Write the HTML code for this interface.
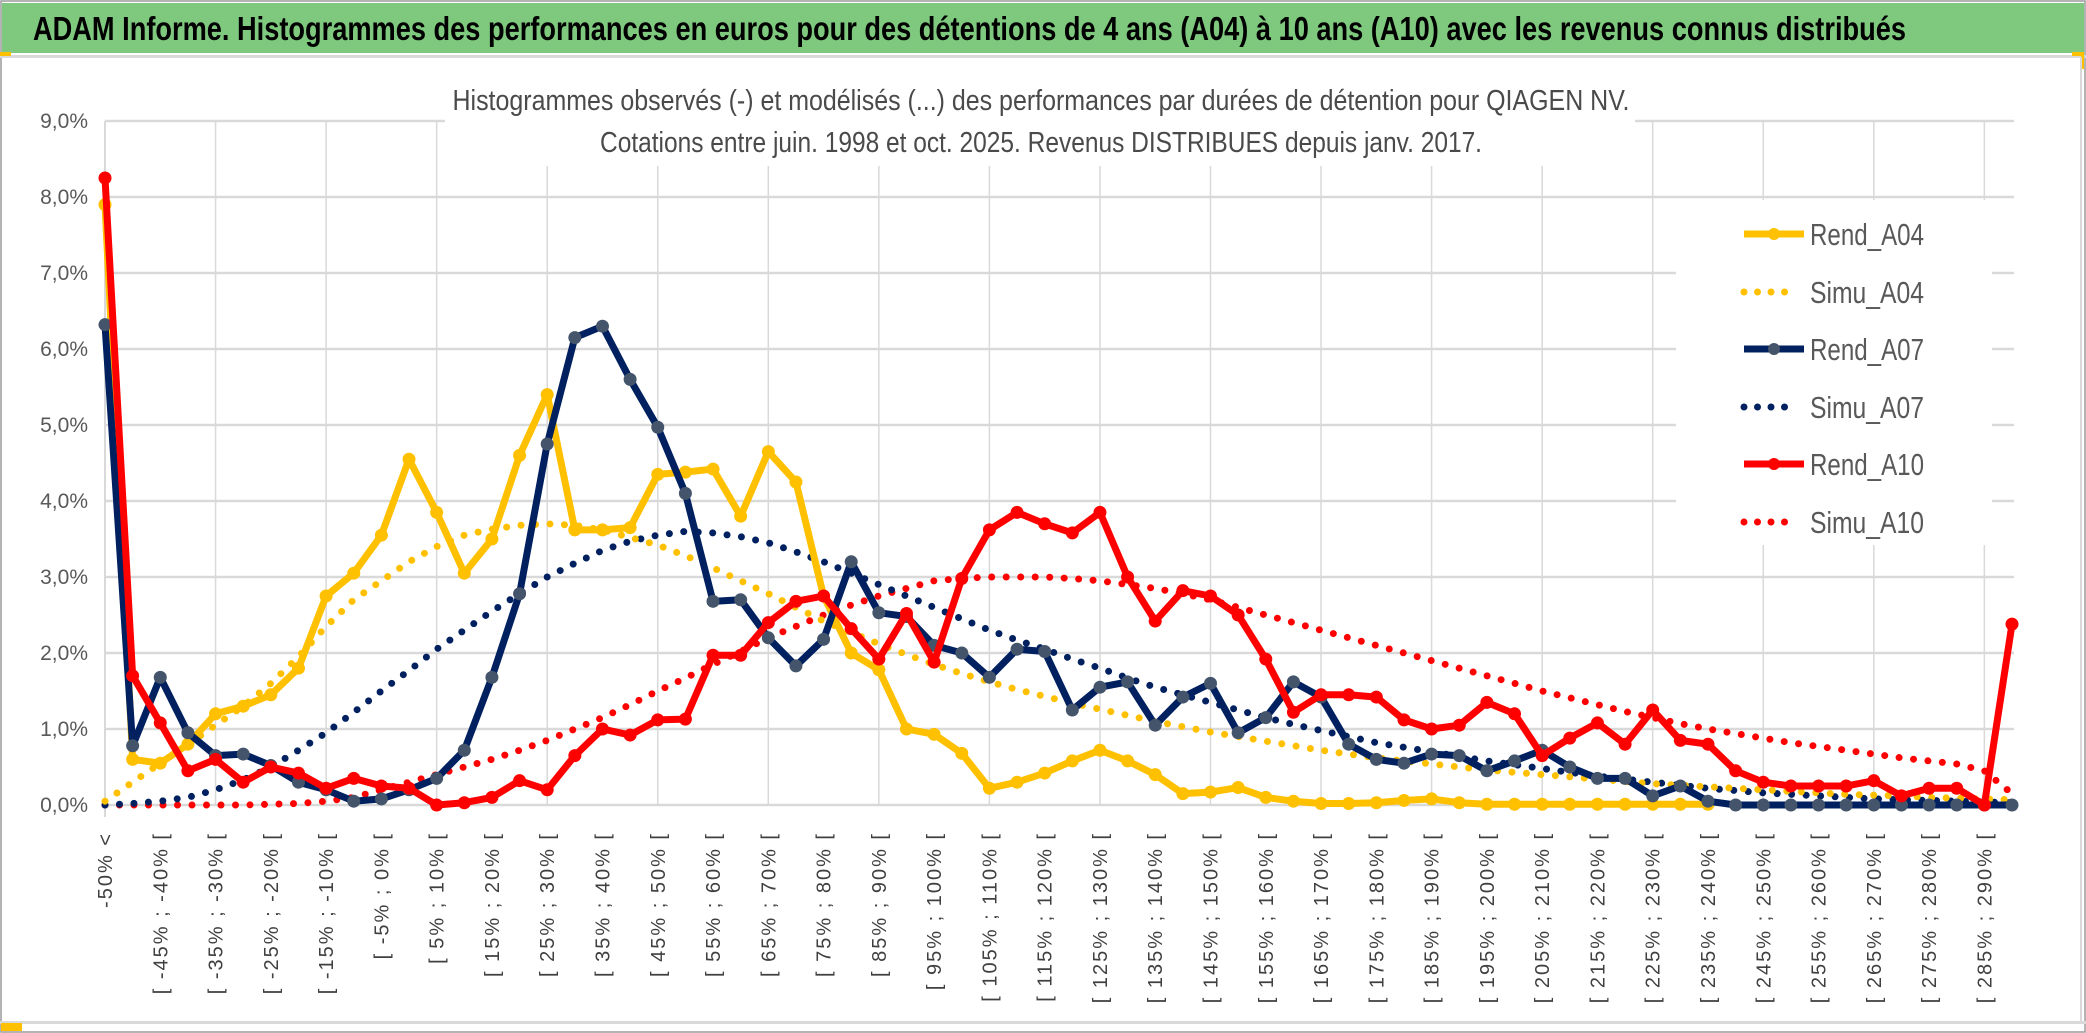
<!DOCTYPE html>
<html><head><meta charset="utf-8"><style>
html,body{margin:0;padding:0;background:#fff;}
svg{display:block;}
text{font-family:"Liberation Sans Narrow","Liberation Sans",sans-serif;}
</style></head><body>
<svg id="chart" width="2086" height="1033" viewBox="0 0 2086 1033" xmlns="http://www.w3.org/2000/svg">
<rect x="0" y="0" width="2086" height="1033" fill="#fff"/>
<rect x="1" y="1" width="2084" height="1031" fill="none" stroke="#9a9a9a" stroke-width="1.5"/>
<rect x="2" y="3" width="2082" height="50" fill="#7FC97F"/>
<text x="33" y="40" font-size="33" font-weight="bold" fill="#000" textLength="1873" lengthAdjust="spacingAndGlyphs">ADAM Informe. Histogrammes des performances en euros pour des détentions de 4 ans (A04) à 10 ans (A10) avec les revenus connus distribués</text>
<rect x="0" y="55" width="2086" height="3" fill="#d9d9d9"/>
<rect x="0" y="52" width="11" height="4" fill="#FFC000"/>
<rect x="2072" y="52" width="12" height="4" fill="#FFC000"/>
<rect x="2081" y="55" width="3" height="14" fill="#FFC000"/>
<line x1="2081" y1="57" x2="2081" y2="1022" stroke="#d9d9d9" stroke-width="2"/>
<rect x="0" y="1021" width="2086" height="3" fill="#d9d9d9"/>
<rect x="1" y="1023" width="21" height="8" fill="#FFC000"/>
<g id="grid"></g>
<rect x="445" y="80" width="1190" height="86" fill="#fff"/>
<text x="1041" y="110" font-size="29" fill="#4a4a4a" text-anchor="middle" textLength="1177" lengthAdjust="spacingAndGlyphs">Histogrammes observés (-) et modélisés (...) des performances par durées de détention pour QIAGEN NV.</text>
<text x="1041" y="152" font-size="29" fill="#4a4a4a" text-anchor="middle" textLength="882" lengthAdjust="spacingAndGlyphs">Cotations entre juin. 1998 et oct. 2025. Revenus DISTRIBUES depuis janv. 2017.</text>
<g id="yaxis"></g>
<g id="xaxis"></g>
<g id="series"></g>
<g id="legend"></g>
</svg>
<script>
const categories = (function(){const a=["-50% <"];for(let i=1;i<70;i++){const lo=-50+5*(i-1);a.push("[ "+lo+"% ; "+(lo+5)+"% [");}return a;})();
const yTicks = [0,1,2,3,4,5,6,7,8,9];
const rendA04 = [7.9,0.6,0.55,0.8,1.2,1.3,1.45,1.8,2.75,3.05,3.55,4.55,3.85,3.05,3.5,4.6,5.4,3.62,3.62,3.65,4.35,4.38,4.42,3.8,4.65,4.25,2.75,2.0,1.78,1.0,0.93,0.68,0.22,0.3,0.42,0.58,0.72,0.58,0.4,0.15,0.17,0.23,0.1,0.05,0.02,0.02,0.03,0.06,0.08,0.03,0.01,0.01,0.01,0.01,0.01,0.01,0.01,0.01,0.01,null,null,null,null,null,null,null,null,null,null,null];
const rendA07 = [6.32,0.78,1.68,0.95,0.65,0.67,0.52,0.3,0.2,0.05,0.08,0.2,0.35,0.72,1.68,2.78,4.75,6.15,6.3,5.6,4.97,4.1,2.68,2.7,2.2,1.83,2.18,3.2,2.53,2.48,2.1,2.0,1.68,2.05,2.02,1.25,1.55,1.62,1.05,1.42,1.6,0.95,1.15,1.62,1.42,0.8,0.6,0.55,0.67,0.65,0.45,0.58,0.72,0.5,0.35,0.35,0.12,0.25,0.05,0,0,0,0,0,0,0,0,0,0,0];
const rendA10 = [8.25,1.7,1.08,0.45,0.6,0.3,0.5,0.42,0.22,0.35,0.25,0.22,0.0,0.03,0.1,0.32,0.2,0.65,1.0,0.92,1.12,1.13,1.97,1.97,2.4,2.68,2.75,2.32,1.92,2.52,1.88,2.98,3.62,3.85,3.7,3.58,3.85,3.0,2.42,2.82,2.75,2.5,1.92,1.22,1.45,1.45,1.42,1.12,1.0,1.05,1.35,1.2,0.65,0.88,1.08,0.8,1.25,0.85,0.8,0.45,0.3,0.25,0.25,0.25,0.32,0.12,0.22,0.22,0.0,2.38];
const simuA04 = [0.05,0.3,0.55,0.8,1.05,1.3,1.6,1.95,2.35,2.7,2.95,3.2,3.4,3.55,3.63,3.68,3.7,3.68,3.62,3.52,3.42,3.28,3.12,2.95,2.78,2.6,2.42,2.27,2.12,1.98,1.85,1.73,1.62,1.52,1.43,1.34,1.26,1.18,1.1,1.03,0.96,0.9,0.84,0.78,0.72,0.67,0.62,0.58,0.54,0.5,0.46,0.43,0.4,0.37,0.34,0.31,0.28,0.26,0.24,0.22,0.2,0.18,0.16,0.14,0.13,0.12,0.1,0.09,0.08,0.07];
const simuA07 = [0.0,0.02,0.05,0.1,0.2,0.33,0.5,0.72,0.95,1.22,1.5,1.77,2.05,2.3,2.55,2.78,3.0,3.18,3.35,3.47,3.55,3.6,3.58,3.53,3.45,3.33,3.2,3.05,2.9,2.75,2.6,2.45,2.3,2.17,2.05,1.92,1.8,1.67,1.55,1.45,1.35,1.25,1.15,1.06,0.98,0.9,0.82,0.76,0.7,0.64,0.58,0.53,0.48,0.43,0.38,0.34,0.3,0.26,0.22,0.19,0.16,0.14,0.12,0.1,0.08,0.07,0.06,0.05,0.04,0.03];
const simuA10 = [0,0,0,0,0,0,0.01,0.02,0.05,0.1,0.2,0.3,0.4,0.5,0.6,0.72,0.85,1.0,1.15,1.32,1.5,1.67,1.85,2.02,2.2,2.35,2.5,2.63,2.75,2.85,2.95,2.98,3.0,3.0,3.0,2.98,2.95,2.9,2.85,2.78,2.7,2.6,2.5,2.4,2.3,2.2,2.1,2.0,1.9,1.8,1.7,1.6,1.5,1.41,1.32,1.23,1.15,1.07,1.0,0.94,0.88,0.82,0.77,0.72,0.67,0.62,0.58,0.54,0.45,0.15];

const X0=105, X1=2012, Y0=805, PX=76;
const xs = i => X0 + i*(X1-X0)/(categories.length-1);
const ys = v => Y0 - v*PX;
const NS="http://www.w3.org/2000/svg";
function mk(tag, attrs, parent){const e=document.createElementNS(NS,tag);for(const k in attrs)e.setAttribute(k,attrs[k]);parent.appendChild(e);return e;}

const grid=document.getElementById('grid');
yTicks.forEach(t=>{
  const l=mk('line',{x1:X0,x2:2014,y1:ys(t),y2:ys(t),stroke:'#d9d9d9','stroke-width':2.5},grid);
  
  
});
for(let i=4;i<categories.length;i+=4){
  const l=mk('line',{x1:xs(i),x2:xs(i),y1:ys(9),y2:Y0,stroke:'#d9d9d9','stroke-width':1.5},grid);
  
  
}
const ax=mk('line',{x1:X0,x2:X0,y1:ys(9),y2:Y0+12,stroke:'#d9d9d9','stroke-width':2},grid);



const yax=document.getElementById('yaxis');
yTicks.forEach(t=>{
  const tx=mk('text',{x:88,y:ys(t)+7,'font-size':21,fill:'#595959','text-anchor':'end'},yax);
  tx.textContent=t.toFixed(1).replace('.',',')+'%';
  
  
});
const xax=document.getElementById('xaxis');
categories.forEach((c,i)=>{
  if(i%2) return;
  const x=xs(i)+7;
  const tx=mk('text',{x:x,y:832,'font-size':20,fill:'#404040','text-anchor':'end','letter-spacing':'2','transform':`rotate(-90 ${x} 832)`,style:'font-family:"Liberation Sans",sans-serif'},xax);
  tx.textContent=c;
  
  
});

const ser=document.getElementById('series');
function dotted(data,color,name){
  let d='';data.forEach((v,i)=>{if(v==null)return;d+=(d?'L':'M')+xs(i)+' '+ys(v);});
  const p=mk('path',{d:d,fill:'none',stroke:color,'stroke-width':7,'stroke-linecap':'round','stroke-dasharray':'0 14.5'},ser);
  
  
}
function solid(data,color,mcolor,name){
  let d='';data.forEach((v,i)=>{if(v==null)return;d+=(d?'L':'M')+xs(i)+' '+ys(v);});
  const p=mk('path',{d:d,fill:'none',stroke:color,'stroke-width':7,'stroke-linejoin':'round'},ser);
  
  
  data.forEach((v,i)=>{if(v==null)return;
    const c=mk('circle',{cx:xs(i),cy:ys(v),r:6.5,fill:mcolor},ser);
    
    
  });
}
dotted(simuA10,'#FF0000','simu-a10-line');
dotted(simuA07,'#002060','simu-a07-line');
dotted(simuA04,'#FFC000','simu-a04-line');
solid(rendA04,'#FFC000','#FFC000','rend-a04-line');
solid(rendA07,'#002060','#44546A','rend-a07-line');
solid(rendA10,'#FF0000','#FF0000','rend-a10-line');

const lg=document.getElementById('legend');
mk('rect',{x:1676,y:200,width:316,height:345,fill:'#fff'},lg);
const entries=[['Rend_A04','#FFC000','#FFC000',0],['Simu_A04','#FFC000',null,1],['Rend_A07','#002060','#44546A',0],['Simu_A07','#002060',null,1],['Rend_A10','#FF0000','#FF0000',0],['Simu_A10','#FF0000',null,1]];
const ly=[234,292,349,407,464,522];
entries.forEach((e,k)=>{
  const y=ly[k];
  const g=mk('g',{},lg);
  
  
  if(e[3]){mk('line',{x1:1744,x2:1794,y1:y,y2:y,stroke:e[1],'stroke-width':7,'stroke-linecap':'round','stroke-dasharray':'0 13.5'},g);}
  else{mk('line',{x1:1744,x2:1804,y1:y,y2:y,stroke:e[1],'stroke-width':7},g);mk('circle',{cx:1774,cy:y,r:6,fill:e[2]},g);}
  const t=mk('text',{x:1810,y:y+11,'font-size':31,fill:'#595959',textLength:114,lengthAdjust:'spacingAndGlyphs'},g);
  t.textContent=e[0];
});
</script>
</body></html>
